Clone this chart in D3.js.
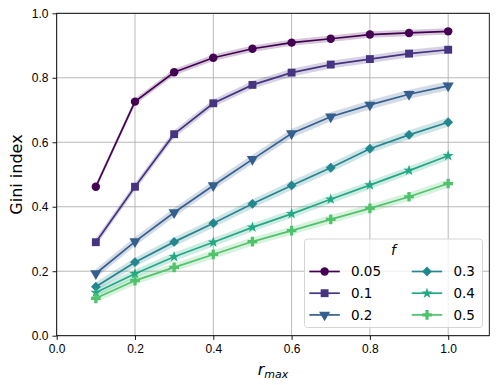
<!DOCTYPE html>
<html>
<head>
<meta charset="utf-8">
<script src="https://cdn.jsdelivr.net/npm/d3@7"></script>
<style>
  body { margin: 0; background: #fff; }
  svg { font-family: "DejaVu Sans", sans-serif; }
  .tick text { font-size: 12px; fill: #000; }
</style>
</head>
<body>
<svg id="chart"></svg>
<script>
const rmax = [0.1, 0.2, 0.3, 0.4, 0.5, 0.6, 0.7, 0.8, 0.9, 1.0];
const fValues = ["0.05", "0.1", "0.2", "0.3", "0.4", "0.5"];

const gini005 = [0.462, 0.726, 0.817, 0.862, 0.890, 0.909, 0.921, 0.934, 0.939, 0.944];
const gini01  = [0.290, 0.462, 0.625, 0.721, 0.778, 0.816, 0.841, 0.858, 0.875, 0.887];
const gini02  = [0.193, 0.292, 0.382, 0.466, 0.547, 0.627, 0.679, 0.716, 0.749, 0.775];
const gini03  = [0.152, 0.228, 0.291, 0.349, 0.409, 0.466, 0.521, 0.580, 0.623, 0.662];
const gini04  = [0.134, 0.192, 0.245, 0.290, 0.336, 0.378, 0.423, 0.467, 0.512, 0.558];
const gini05  = [0.116, 0.171, 0.212, 0.252, 0.292, 0.326, 0.361, 0.395, 0.431, 0.472];

// half width of the shaded band, per series
const spread = [0.010, 0.012, 0.014, 0.014, 0.013, 0.013];

const xTicks = [0.0, 0.2, 0.4, 0.6, 0.8, 1.0];
const yTicks = [0.0, 0.2, 0.4, 0.6, 0.8, 1.0];

const series = [gini005, gini01, gini02, gini03, gini04, gini05];
const colorT = [0, 0.15, 0.3, 0.46, 0.6, 0.72];
const symbols = [
  {type: d3.symbolCircle, size: 56, rot: 0},
  {type: d3.symbolSquare, size: 62, rot: 0},
  {type: d3.symbolTriangle, size: 54, rot: 180},
  {type: d3.symbolSquare, size: 48, rot: 45},
  {type: d3.symbolStar, size: 38, rot: 0},
  {type: d3.symbolCross, size: 52, rot: 0}
];

const W = 498, H = 385;
const margin = {top: 13.3, right: 8.7, bottom: 49.3, left: 56.7};
const w = W - margin.left - margin.right;
const h = H - margin.top - margin.bottom;

const svg = d3.select("#chart").attr("width", W).attr("height", H);
const g = svg.append("g").attr("transform", `translate(${margin.left},${margin.top})`);

const x = d3.scaleLinear().domain([0, 1.105]).range([0, w]);
const y = d3.scaleLinear().domain([0, 1]).range([h, 0]);

// grid
g.append("g").selectAll("line").data(xTicks).join("line")
  .attr("x1", d => x(d)).attr("x2", d => x(d)).attr("y1", 0).attr("y2", h)
  .attr("stroke", "#b0b0b0").attr("stroke-width", 0.9);
g.append("g").selectAll("line").data(yTicks).join("line")
  .attr("y1", d => y(d)).attr("y2", d => y(d)).attr("x1", 0).attr("x2", w)
  .attr("stroke", "#b0b0b0").attr("stroke-width", 0.9);

const color = i => d3.interpolateViridis(colorT[i]);

// bands
series.forEach((vals, i) => {
  const area = d3.area()
    .x((d, j) => x(rmax[j]))
    .y0(d => y(d - spread[i]))
    .y1(d => y(d + spread[i]));
  g.append("path").datum(vals)
    .attr("d", area)
    .attr("fill", color(i))
    .attr("fill-opacity", 0.22);
});

// lines and markers
series.forEach((vals, i) => {
  const line = d3.line().x((d, j) => x(rmax[j])).y(d => y(d));
  g.append("path").datum(vals)
    .attr("d", line)
    .attr("fill", "none")
    .attr("stroke", color(i))
    .attr("stroke-width", 1.7);
  const sym = d3.symbol().type(symbols[i].type).size(symbols[i].size);
  g.append("g").selectAll("path").data(vals).join("path")
    .attr("d", sym)
    .attr("transform", (d, j) => `translate(${x(rmax[j])},${y(d)}) rotate(${symbols[i].rot})`)
    .attr("fill", color(i));
});

// axes
const xAxis = g.append("g").attr("transform", `translate(0,${h})`)
  .call(d3.axisBottom(x).tickValues(xTicks).tickFormat(d3.format(".1f")).tickSize(4.2).tickPadding(4.5));
const yAxis = g.append("g")
  .call(d3.axisLeft(y).tickValues(yTicks).tickFormat(d3.format(".1f")).tickSize(4.2).tickPadding(4));
[xAxis, yAxis].forEach(a => {
  a.select(".domain").remove();
  a.selectAll(".tick line").attr("stroke", "#000").attr("stroke-width", 0.9);
});

// frame
g.append("rect").attr("width", w).attr("height", h)
  .attr("fill", "none").attr("stroke", "#000").attr("stroke-width", 0.9);

// axis labels
const xl = svg.append("text")
  .attr("x", margin.left + w / 2).attr("y", 375)
  .attr("text-anchor", "middle").attr("font-size", 16);
xl.append("tspan").attr("font-style", "italic").text("r");
xl.append("tspan").attr("font-style", "italic").attr("font-size", 11).attr("dy", 3).text("max");

svg.append("text")
  .attr("transform", `translate(22,${margin.top + h / 2}) rotate(-90)`)
  .attr("text-anchor", "middle").attr("font-size", 16)
  .text("Gini index");

// legend
const lg = svg.append("g").attr("transform", "translate(304.5,239)");
lg.append("rect").attr("width", 178).attr("height", 88.5).attr("rx", 3)
  .attr("fill", "#fff").attr("fill-opacity", 0.8)
  .attr("stroke", "#d0d0d0").attr("stroke-width", 0.9);
lg.append("text").attr("x", 89).attr("y", 16).attr("text-anchor", "middle")
  .attr("font-size", 14).attr("font-style", "italic").text("f");

fValues.forEach((lab, i) => {
  const col = Math.floor(i / 3), row = i % 3;
  const ox = 4.8 + col * 102.4, oy = 32.5 + row * 21.7;
  const it = lg.append("g").attr("transform", `translate(${ox},${oy})`);
  it.append("line").attr("x1", 0).attr("x2", 30.5).attr("y1", 0).attr("y2", 0)
    .attr("stroke", color(i)).attr("stroke-width", 1.7);
  it.append("path")
    .attr("d", d3.symbol().type(symbols[i].type).size(symbols[i].size)())
    .attr("transform", `translate(15.3,0) rotate(${symbols[i].rot})`)
    .attr("fill", color(i));
  it.append("text").attr("x", 41.7).attr("y", 0).attr("dy", "0.35em")
    .attr("font-size", 13.5).text(lab);
});
</script>
</body>
</html>
